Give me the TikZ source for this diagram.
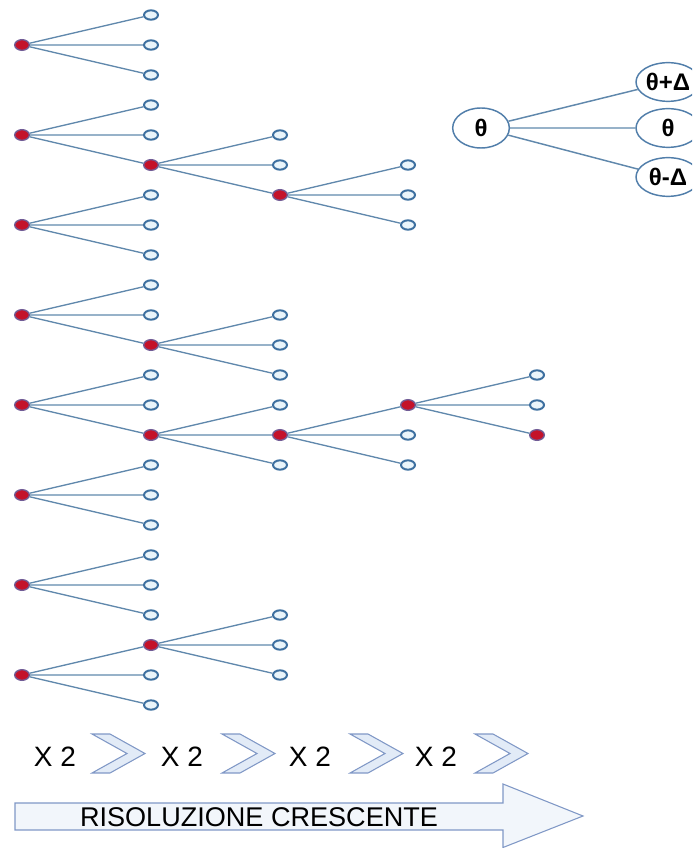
\documentclass[tikz,border=0pt]{standalone}
\usepackage{fontspec}
\setmainfont{Liberation Sans}
\usetikzlibrary{shapes}

\definecolor{linkblue}{RGB}{96,136,172}
\definecolor{ringblue}{RGB}{62,112,160}
\definecolor{leaffill}{RGB}{234,245,251}
\definecolor{dotred}{RGB}{196,18,42}
\definecolor{dotrim}{RGB}{112,92,150}
\definecolor{chevfill}{RGB}{226,235,247}
\definecolor{chevdraw}{RGB}{128,152,198}
\definecolor{bandfill}{RGB}{242,246,251}

\begin{document}
\begin{tikzpicture}[x=0.75pt,y=0.75pt,yscale=-1,xscale=1,
    leaf/.style={ellipse,draw=ringblue,line width=1.5pt,fill=leaffill,minimum width=10.5pt,minimum height=7pt,inner sep=0pt},
    hit/.style={ellipse,draw=dotrim,line width=1pt,fill=dotred,minimum width=11pt,minimum height=8pt,inner sep=0pt},
    link/.style={draw=linkblue,line width=1pt},
    val/.style={ellipse,draw=ringblue!90,line width=1.1pt,fill=white,inner sep=0pt,font=\bfseries\fontsize{18}{20}\selectfont},
    chevron/.style={draw=chevdraw,line width=0.8pt,fill=chevfill,line join=miter},
    label/.style={inner sep=0pt,font=\fontsize{21}{23}\selectfont}]
    \clip (0,0) rectangle (692,848);

    % Level 1
    \node[hit] (a1) at (22,45) {};
    \node[hit] (a4) at (22,135) {};
    \node[hit] (a7) at (22,225) {};
    \node[hit] (a10) at (22,315) {};
    \node[hit] (a13) at (22,405) {};
    \node[hit] (a16) at (22,495) {};
    \node[hit] (a19) at (22,585) {};
    \node[hit] (a22) at (22,675) {};

    % Level 2
    \node[leaf] (b0) at (151,15) {};
    \node[leaf] (b1) at (151,45) {};
    \node[leaf] (b2) at (151,75) {};
    \node[leaf] (b3) at (151,105) {};
    \node[leaf] (b4) at (151,135) {};
    \node[hit] (b5) at (151,165) {};
    \node[leaf] (b6) at (151,195) {};
    \node[leaf] (b7) at (151,225) {};
    \node[leaf] (b8) at (151,255) {};
    \node[leaf] (b9) at (151,285) {};
    \node[leaf] (b10) at (151,315) {};
    \node[hit] (b11) at (151,345) {};
    \node[leaf] (b12) at (151,375) {};
    \node[leaf] (b13) at (151,405) {};
    \node[hit] (b14) at (151,435) {};
    \node[leaf] (b15) at (151,465) {};
    \node[leaf] (b16) at (151,495) {};
    \node[leaf] (b17) at (151,525) {};
    \node[leaf] (b18) at (151,555) {};
    \node[leaf] (b19) at (151,585) {};
    \node[leaf] (b20) at (151,615) {};
    \node[hit] (b21) at (151,645) {};
    \node[leaf] (b22) at (151,675) {};
    \node[leaf] (b23) at (151,705) {};

    % Level 3
    \node[leaf] (c4) at (280,135) {};
    \node[leaf] (c5) at (280,165) {};
    \node[hit] (c6) at (280,195) {};
    \node[leaf] (c10) at (280,315) {};
    \node[leaf] (c11) at (280,345) {};
    \node[leaf] (c12) at (280,375) {};
    \node[leaf] (c13) at (280,405) {};
    \node[hit] (c14) at (280,435) {};
    \node[leaf] (c15) at (280,465) {};
    \node[leaf] (c20) at (280,615) {};
    \node[leaf] (c21) at (280,645) {};
    \node[leaf] (c22) at (280,675) {};

    % Level 4
    \node[leaf] (d5) at (408,165) {};
    \node[leaf] (d6) at (408,195) {};
    \node[leaf] (d7) at (408,225) {};
    \node[hit] (d13) at (408,405) {};
    \node[leaf] (d14) at (408,435) {};
    \node[leaf] (d15) at (408,465) {};

    % Level 5
    \node[leaf] (e12) at (537,375) {};
    \node[leaf] (e13) at (537,405) {};
    \node[hit] (e14) at (537,435) {};

    % Straight Lines
    \draw[link] (a1) -- (b0) (a1) -- (b1) (a1) -- (b2);
    \draw[link] (a4) -- (b3) (a4) -- (b4) (a4) -- (b5);
    \draw[link] (a7) -- (b6) (a7) -- (b7) (a7) -- (b8);
    \draw[link] (a10) -- (b9) (a10) -- (b10) (a10) -- (b11);
    \draw[link] (a13) -- (b12) (a13) -- (b13) (a13) -- (b14);
    \draw[link] (a16) -- (b15) (a16) -- (b16) (a16) -- (b17);
    \draw[link] (a19) -- (b18) (a19) -- (b19) (a19) -- (b20);
    \draw[link] (a22) -- (b21) (a22) -- (b22) (a22) -- (b23);
    \draw[link] (b5) -- (c4) (b5) -- (c5) (b5) -- (c6);
    \draw[link] (b11) -- (c10) (b11) -- (c11) (b11) -- (c12);
    \draw[link] (b14) -- (c13) (b14) -- (c14) (b14) -- (c15);
    \draw[link] (b21) -- (c20) (b21) -- (c21) (b21) -- (c22);
    \draw[link] (c6) -- (d5) (c6) -- (d6) (c6) -- (d7);
    \draw[link] (c14) -- (d13) (c14) -- (d14) (c14) -- (d15);
    \draw[link] (d13) -- (e12) (d13) -- (e13) (d13) -- (e14);

    % Value split
    \node[val,minimum width=42.5pt,minimum height=30pt] (th) at (481,128) {θ};
    \node[val,minimum width=48pt,minimum height=29pt] (thp) at (668,82) {θ+Δ};
    \node[val,minimum width=48pt,minimum height=29pt] (thz) at (668,128) {θ};
    \node[val,minimum width=48pt,minimum height=29pt] (thm) at (668,177) {θ-Δ};
    \draw[link,line width=1.1pt] (th) -- (thp) (th) -- (thz) (th) -- (thm);

    % Text Node
    \node[label] (x2a) at (55,757) {X 2};
    \node[label] (x2b) at (182,757) {X 2};
    \node[label] (x2c) at (310,757) {X 2};
    \node[label] (x2d) at (436,757) {X 2};

    % Shape: Chevron
    \draw[chevron] (92,734) -- ++(18,0) -- ++(35,19.5) -- ++(-35,19.5) -- ++(-18,0) -- ++(35,-19.5) -- cycle;
    \draw[chevron] (222,734) -- ++(18,0) -- ++(35,19.5) -- ++(-35,19.5) -- ++(-18,0) -- ++(35,-19.5) -- cycle;
    \draw[chevron] (350,734) -- ++(18,0) -- ++(35,19.5) -- ++(-35,19.5) -- ++(-18,0) -- ++(35,-19.5) -- cycle;
    \draw[chevron] (475,734) -- ++(18,0) -- ++(35,19.5) -- ++(-35,19.5) -- ++(-18,0) -- ++(35,-19.5) -- cycle;

    % Shape: Right Arrow
    \draw[chevdraw,line width=0.8pt,fill=bandfill] (15,803) -- (503,803) -- (503,784) -- (583,816) -- (503,847.5) -- (503,830) -- (15,830) -- cycle;
    \node[label,font=\fontsize{20.3}{22}\selectfont] (risol) at (259,817) {RISOLUZIONE CRESCENTE};
\end{tikzpicture}
\end{document}
